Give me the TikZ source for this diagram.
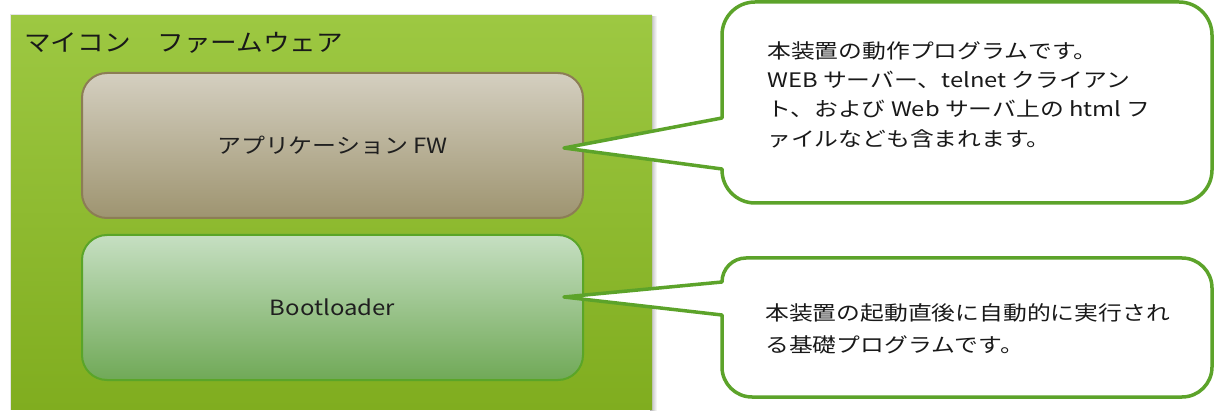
\documentclass[tikz,border=0pt]{standalone}
\usepackage{fontspec}
\usepackage{graphicx}
\usetikzlibrary{calc}
\newfontfamily\jpfont{Noto Sans CJK JP}
\newcommand{\widetext}[2]{\scalebox{#1}[1]{#2}}
\definecolor{outerTop}{RGB}{157,200,66}
\definecolor{outerBot}{RGB}{128,173,31}
\definecolor{appTop}{RGB}{212,207,192}
\definecolor{appBot}{RGB}{158,148,112}
\definecolor{appLine}{RGB}{140,125,85}
\definecolor{bootTop}{RGB}{198,223,194}
\definecolor{bootBot}{RGB}{112,169,87}
\definecolor{bootLine}{RGB}{90,165,40}
\definecolor{callLine}{RGB}{92,163,42}
\begin{document}
\begin{tikzpicture}[x=1pt,y=1pt,
  outerbox/.style={rectangle, inner sep=0pt, top color=outerTop, bottom color=outerBot},
  appbox/.style={rectangle, rounded corners=25pt, top color=appTop, bottom color=appBot, draw=appLine, line width=2pt, minimum width=501pt, minimum height=145pt, inner sep=0pt, font=\jpfont\fontsize{21}{25}\selectfont, text=black!88},
  bootbox/.style={rectangle, rounded corners=25pt, top color=bootTop, bottom color=bootBot, draw=bootLine, line width=2pt, minimum width=501pt, minimum height=145pt, inner sep=0pt, font=\jpfont\fontsize{21}{25}\selectfont, text=black!88},
  callout/.style={draw=callLine, line width=3.5pt, fill=white, line join=round},
  calltext/.style={anchor=base west, inner sep=0pt, font=\jpfont\fontsize{20}{24}\selectfont, text=black!90},
  titletext/.style={anchor=west, inner sep=0pt, font=\jpfont\fontsize{24}{28}\selectfont, text=black!90},
]
\useasboundingbox (0,0) rectangle (1216,410);
% soft shadow of the firmware block
\shade[left color=black!30, right color=white] (650,0) rectangle (657,393);
\fill[black!10] (9.5,0) rectangle (652,395.5);
\node[outerbox, minimum width=641pt, minimum height=394pt, anchor=south west] (fw) at (11,0) {};
\node[titletext] (title) at (24,367.5) {\widetext{1.11}{マイコン　ファームウェア}};
\node[appbox] (app) at (332.5,264.5) {\widetext{1.14}{アプリケーション FW}};
\node[bootbox] (boot) at (332.5,102.5) {\widetext{1.14}{Bootloader}};
% callout pointer tips
\coordinate (tip1) at ($(app.east)+(-20,-2.5)$);
\coordinate (tip2) at ($(boot.east)+(-20,10.5)$);
% callout 1
\draw[callout] (722,292) -- (tip1) -- (722,241) -- (722,240) arc[start angle=180, end angle=270, radius=33] -- (1179,207) arc[start angle=270, end angle=360, radius=33] -- (1212,375) arc[start angle=0, end angle=90, radius=33] -- (755,408) arc[start angle=90, end angle=180, radius=33] -- cycle;
% callout 2
\draw[callout] (722,128) -- (tip2) -- (722,95) -- (722,43) arc[start angle=180, end angle=270, radius=30] -- (1182,13) arc[start angle=270, end angle=360, radius=30] -- (1212,122) arc[start angle=0, end angle=90, radius=30] -- (746,152) arc[start angle=90, end angle=180, radius=24] -- cycle;
% callout texts
\node[calltext] (c1a) at (767,351.8) {\widetext{1.19}{本装置の動作プログラムです。}};
\node[calltext] (c1b) at (767,322.5) {\widetext{1.19}{WEB サーバー、telnet クライアン}};
\node[calltext] (c1c) at (767,293.2) {\widetext{1.19}{ト、および Web サーバ上の html フ}};
\node[calltext] (c1d) at (767,263.9) {\widetext{1.19}{ァイルなども含まれます。}};
\node[calltext] (c2a) at (765,89.8) {\widetext{1.19}{本装置の起動直後に自動的に実行され}};
\node[calltext] (c2b) at (765,57.8) {\widetext{1.19}{る基礎プログラムです。}};
\end{tikzpicture}
\end{document}
